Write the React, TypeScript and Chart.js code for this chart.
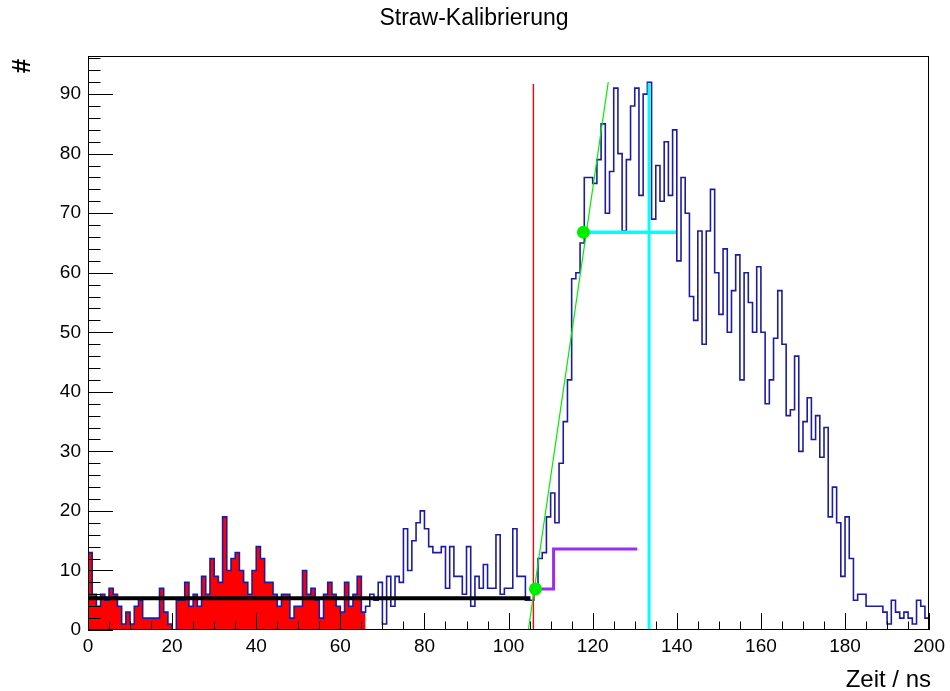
import { useEffect, useRef } from 'react';
import { Chart, registerables } from 'chart.js';

Chart.register(...registerables);

// Histogram contents, one value per 1 ns bin from 0 to 200 ns
const binValues = [
  13, 6, 4, 6, 5, 7, 6, 4, 1, 3,
  1, 4, 5, 2, 2, 2, 2, 7, 3, 1,
  0, 5, 5, 8, 4, 6, 4, 9, 6, 12,
  9, 8, 19, 10, 12, 13, 10, 8, 6, 10,
  14, 12, 8, 8, 6, 4, 6, 6, 2, 4,
  4, 10, 6, 7, 5, 2, 6, 8, 6, 4,
  3, 8, 4, 6, 9, 3, 4, 6, 5, 8,
  1, 9, 4, 9, 8, 17, 10, 15, 18, 20,
  17, 14, 13, 13, 14, 7, 14, 9, 9, 6,
  14, 4, 9, 7, 11, 7, 7, 16, 6, 7,
  7, 17, 9, 9, 5, 5, 7, 12, 13, 19,
  23, 18, 28, 35, 42, 59, 60, 65, 76, 76,
  75, 79, 85, 70, 77, 91, 80, 67, 79, 88,
  91, 73, 90, 92, 69, 78, 72, 82, 73, 84,
  62, 76, 70, 56, 52, 67, 48, 67, 74, 60,
  53, 64, 50, 57, 63, 42, 60, 55, 50, 61,
  50, 38, 42, 49, 57, 48, 36, 37, 46, 30,
  35, 39, 32, 36, 29, 34, 19, 24, 18, 9,
  19, 12, 5, 6, 6, 4, 4, 4, 4, 3,
  1, 5, 3, 2, 3, 2, 1, 5, 4, 2,
];
const histMin = 0;
const histMax = 200;
const filledBins = 66; // red filled background region: bins [0, 66)

// Fitted / derived quantities
const baselineLine = [{ x: 0, y: 5.35 }, { x: 105.2, y: 5.35 }];
const thresholdLine = [{ x: 105.9, y: 0 }, { x: 105.9, y: 91.7 }];
const riseFitLine = [{ x: 104.7, y: 0 }, { x: 123.7, y: 92 }];
const plateauLine = [{ x: 117.8, y: 66.8 }, { x: 139.8, y: 66.8 }];
const maximumLine = [{ x: 133.4, y: 0 }, { x: 133.4, y: 91.8 }];
const stepLine = [
  { x: 106.4, y: 6.9 },
  { x: 110.7, y: 6.9 },
  { x: 110.7, y: 13.6 },
  { x: 130.6, y: 13.6 },
];
const markerPoints = [{ x: 106.4, y: 6.9 }, { x: 117.8, y: 66.8 }];

const xTickStep = 20;
const xMinorStep = 5;
const yMax = 96.4;
const yTickStep = 10;
const yMinorStep = 2;

const titleText = 'Straw-Kalibrierung';
const xTitle = 'Zeit / ns';
const yTitle = '#';

const FONT = "'Liberation Sans', Arial, Helvetica, sans-serif";

const rootStylePlugin = {
  id: 'rootStyle',
  afterDraw(chart: any) {
    const { ctx, chartArea, scales } = chart;
    const { left, right, top, bottom } = chartArea;
    ctx.save();
    ctx.strokeStyle = '#000';
    ctx.lineWidth = 1;
    // frame
    ctx.strokeRect(Math.round(left) + 0.5, Math.round(top) + 0.5, Math.round(right - left) - 1, Math.round(bottom - top) - 1);
    // x ticks (inside, upward)
    ctx.beginPath();
    for (let v = histMin; v <= histMax + 1e-9; v += xMinorStep) {
      const px = Math.round(scales.x.getPixelForValue(v)) + 0.5;
      const len = v % xTickStep === 0 ? 17 : 8.5;
      ctx.moveTo(px, bottom);
      ctx.lineTo(px, bottom - len);
    }
    // y ticks (inside, rightward)
    for (let v = 0; v <= yMax + 1e-9; v += yMinorStep) {
      const py = Math.round(scales.y.getPixelForValue(v)) + 0.5;
      const len = v % yTickStep === 0 ? 25 : 12.5;
      ctx.moveTo(left, py);
      ctx.lineTo(left + len, py);
    }
    ctx.stroke();

    // texts
    ctx.fillStyle = '#000';
    ctx.font = `23px ${FONT}`;
    ctx.textAlign = 'center';
    ctx.textBaseline = 'middle';
    ctx.fillText(titleText, 474, 19);

    ctx.textAlign = 'right';
    ctx.textBaseline = 'alphabetic';
    ctx.font = `24px ${FONT}`;
    ctx.fillText(xTitle, 931, 687);

    ctx.save();
    ctx.translate(23, 66);
    ctx.rotate(-Math.PI / 2);
    ctx.textAlign = 'center';
    ctx.textBaseline = 'middle';
    ctx.font = `bold 26px ${FONT}`;
    ctx.fillText(yTitle, 0, 0);
    ctx.restore();

    ctx.restore();
  },
};

export default function App() {
  const canvasRef = useRef<HTMLCanvasElement | null>(null);

  useEffect(() => {
    if (!canvasRef.current) return;
    Chart.defaults.font.family = FONT;

    const histPoints: { x: number; y: number }[] = [{ x: histMin, y: 0 }];
    binValues.forEach((v, i) => histPoints.push({ x: histMin + i, y: v }));
    histPoints.push({ x: histMax, y: binValues[binValues.length - 1] });
    histPoints.push({ x: histMax, y: 0 });

    const fillPoints: { x: number; y: number }[] = [];
    for (let i = 0; i < filledBins; i++) fillPoints.push({ x: histMin + i, y: binValues[i] });
    fillPoints.push({ x: histMin + filledBins, y: binValues[filledBins - 1] });

    const lineBase = { pointRadius: 0, tension: 0, fill: false } as any;

    const chart = new Chart(canvasRef.current, {
      type: 'line',
      data: {
        datasets: [
          {
            ...lineBase,
            data: markerPoints,
            showLine: false,
            pointRadius: 6.5,
            pointBackgroundColor: '#00ee00',
            pointBorderColor: '#00ee00',
            pointBorderWidth: 0,
            order: 0,
          },
          { ...lineBase, data: stepLine, borderColor: '#9a2ef2', borderWidth: 3, order: 1 },
          { ...lineBase, data: maximumLine, borderColor: '#00ffff', borderWidth: 3, order: 2 },
          { ...lineBase, data: plateauLine, borderColor: '#00ffff', borderWidth: 3.5, order: 3 },
          { ...lineBase, data: riseFitLine, borderColor: '#00ee00', borderWidth: 1.2, order: 4 },
          { ...lineBase, data: thresholdLine, borderColor: '#ff0000', borderWidth: 1.4, order: 5 },
          { ...lineBase, data: baselineLine, borderColor: '#000000', borderWidth: 4, order: 6 },
          { ...lineBase, data: histPoints, stepped: 'before', borderColor: '#1c1ca0', borderWidth: 1.6, order: 7 },
          {
            ...lineBase,
            data: fillPoints,
            stepped: 'before',
            borderWidth: 0,
            borderColor: 'rgba(0,0,0,0)',
            backgroundColor: '#ff0000',
            fill: 'origin',
            order: 8,
          },
        ],
      },
      options: {
        animation: false,
        responsive: false,
        devicePixelRatio: 1,
        events: [],
        layout: { padding: { top: 56, right: 18, left: 0, bottom: 0 } },
        plugins: {
          legend: { display: false },
          tooltip: { enabled: false },
          title: { display: false },
        },
        scales: {
          x: {
            type: 'linear',
            min: histMin,
            max: histMax,
            grid: { display: false, drawTicks: false },
            border: { display: false },
            ticks: {
              stepSize: xTickStep,
              color: '#000',
              font: { size: 19 },
              padding: 5,
              maxRotation: 0,
              autoSkip: false,
            },
            afterFit: (s: any) => {
              s.height = 61;
            },
          },
          y: {
            type: 'linear',
            min: 0,
            max: yMax,
            grid: { display: false, drawTicks: false },
            border: { display: false },
            ticks: {
              stepSize: yTickStep,
              includeBounds: false,
              color: '#000',
              font: { size: 19 },
              padding: 7,
              callback: (v: any) => (Number(v) % yTickStep === 0 ? String(v) : ''),
            },
            afterFit: (s: any) => {
              s.width = 88;
            },
          },
        },
      } as any,
      plugins: [rootStylePlugin],
    });
    return () => chart.destroy();
  }, []);

  return (
    <div style={{ position: 'fixed', left: 0, top: 0, width: 950, height: 691, background: '#fff' }}>
      <canvas ref={canvasRef} width={950} height={691} style={{ width: 950, height: 691 }} />
    </div>
  );
}
